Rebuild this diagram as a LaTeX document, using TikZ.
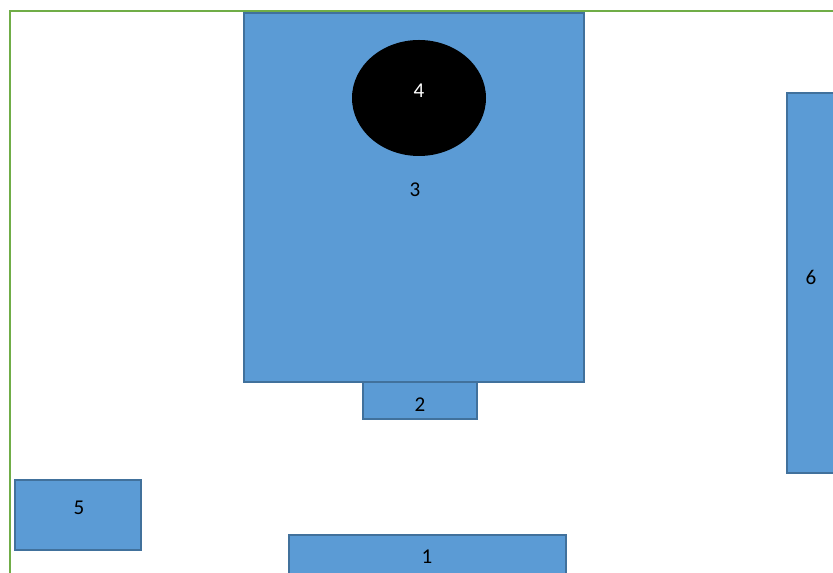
\documentclass[tikz,border=0pt]{standalone}
\usepackage{fontspec}
\setmainfont{Carlito}
\usetikzlibrary{positioning}
\definecolor{partblue}{RGB}{91,155,213}
\definecolor{partedge}{RGB}{65,113,156}
\definecolor{framegreen}{RGB}{112,173,71}

\begin{document}
\begin{tikzpicture}[x=0.02cm, y=-0.02cm,
    part/.style={fill=partblue, draw=partedge, line width=1.1pt},
    tag/.style={font=\fontsize{12}{14}\selectfont, text=black, inner sep=0pt}]
    \useasboundingbox (0,0) rectangle (833,573);
    \clip (0,0) rectangle (833,573);
    % outer frame
    \draw[framegreen, line width=1.2pt] (10,600) -- (10,11) -- (860,11);
    % parts
    \draw[part] (244,13) rectangle (584,382);
    \draw[part] (363,382) rectangle (477,419);
    \draw[part] (787,93) rectangle (860,473);
    \draw[part] (15,480) rectangle (141,550);
    \draw[part] (289,535) rectangle (566,600);
    \fill[black] (419,98) ellipse [x radius=67, y radius=58];
    % labels
    \node[tag] (l3) at (415,190) {3};
    \node[tag, text=white] (l4) at (419,91) {4};
    \node[tag] (l2) at (420,405) {2};
    \node[tag] (l6) at (811,277) {6};
    \node[tag] (l5) at (79,508) {5};
    \node[tag] (l1) at (427,557) {1};
\end{tikzpicture}
\end{document}
